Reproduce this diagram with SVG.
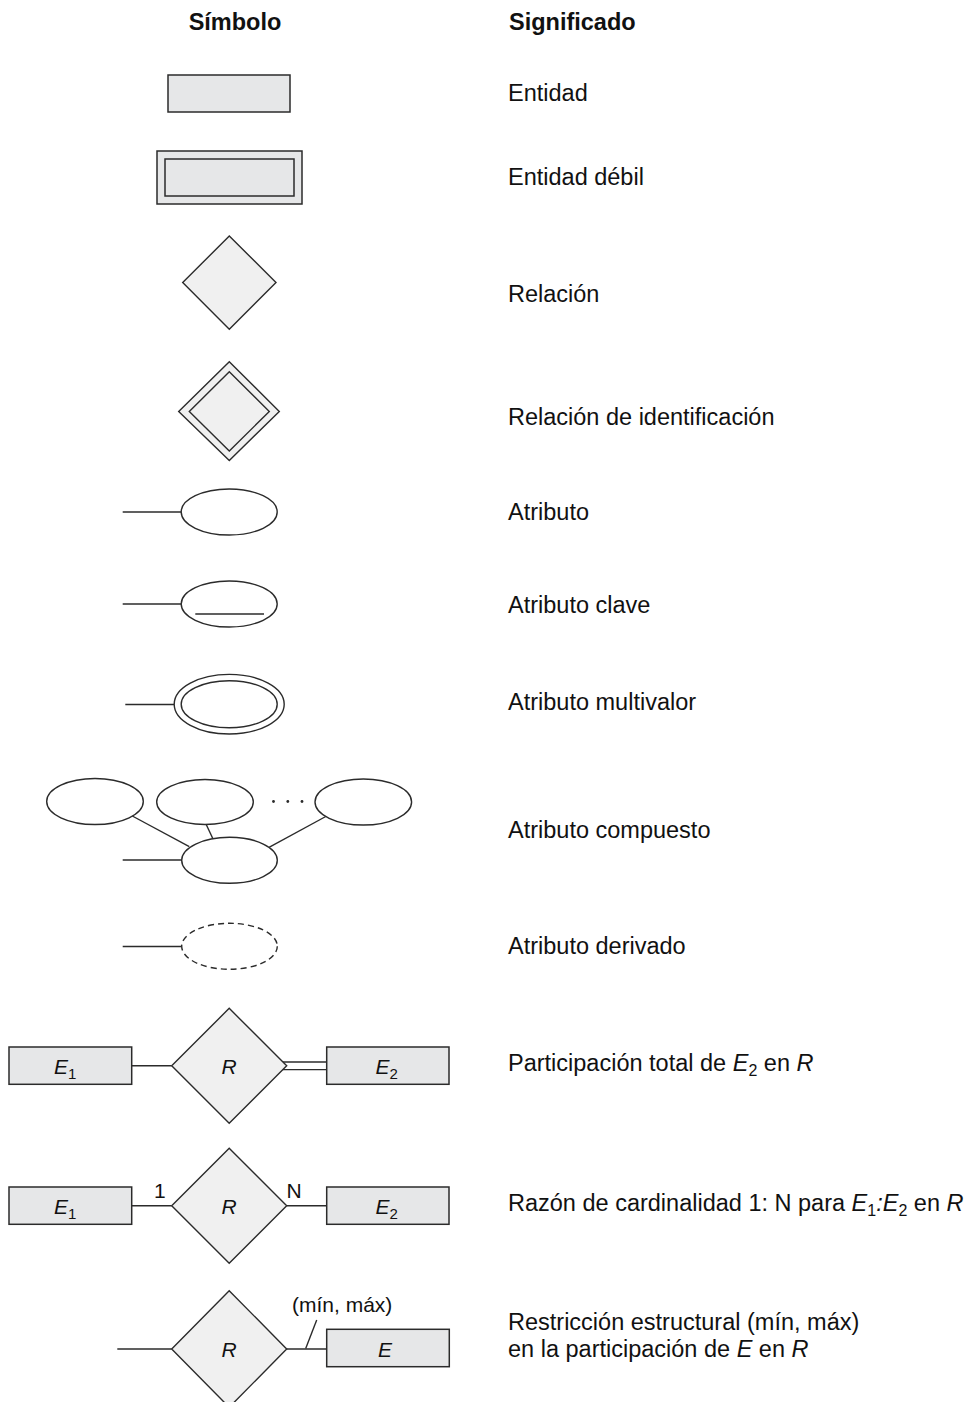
<svg xmlns="http://www.w3.org/2000/svg" width="980" height="1402" viewBox="0 0 980 1402">
<style>
  .ent{fill:#e6e7e8;stroke:#2b2b2b;stroke-width:1.5}
  .rel{fill:#f0f0f0;stroke:#2b2b2b;stroke-width:1.4}
  .att{fill:#ffffff;stroke:#2b2b2b;stroke-width:1.4}
  .ln{fill:none;stroke:#2b2b2b;stroke-width:1.4}
  .dash{stroke-dasharray:6 4}
  .hd{font-family:"Liberation Sans",Arial,Helvetica,sans-serif;font-weight:bold;font-size:23.5px;fill:#111}
  .tx{font-family:"Liberation Sans",Arial,Helvetica,sans-serif;font-size:23.5px;fill:#111}
  .lb{font-family:"Liberation Sans",Arial,Helvetica,sans-serif;font-size:21px;fill:#111}
  .it{font-style:italic}
</style>
<rect width="980" height="1402" fill="#ffffff"/>

<!-- headers -->
<g id="headers">
  <text class="hd" x="235" y="29.5" text-anchor="middle">Símbolo</text>
  <text class="hd" x="509" y="29.5">Significado</text>
</g>

<!-- connectors -->
<g id="connectors">
  <line class="ln" x1="122.7" y1="512" x2="181" y2="512"/>
  <line class="ln" x1="122.7" y1="604" x2="181" y2="604"/>
  <line class="ln" x1="125.3" y1="704.5" x2="174" y2="704.5"/>
  <line class="ln" x1="122.7" y1="860" x2="181.7" y2="860"/>
  <line class="ln" x1="132.3" y1="816" x2="189.3" y2="846.7"/>
  <line class="ln" x1="206" y1="824" x2="213" y2="839"/>
  <line class="ln" x1="326.7" y1="816" x2="269" y2="847.3"/>
  <line class="ln" x1="122.7" y1="946.5" x2="181.7" y2="946.5"/>
  <!-- row 1 -->
  <line class="ln" x1="131.7" y1="1065.7" x2="171.7" y2="1065.7"/>
  <line class="ln" x1="282.7" y1="1062" x2="326.7" y2="1062"/>
  <line class="ln" x1="282.7" y1="1069.6" x2="326.7" y2="1069.6"/>
  <!-- row 2 -->
  <line class="ln" x1="131.7" y1="1205.7" x2="171.7" y2="1205.7"/>
  <line class="ln" x1="286.7" y1="1205.7" x2="326.7" y2="1205.7"/>
  <!-- row 3 -->
  <line class="ln" x1="117.3" y1="1349" x2="171.7" y2="1349"/>
  <line class="ln" x1="286.7" y1="1349" x2="326.7" y2="1349"/>
  <line class="ln" x1="316.7" y1="1320" x2="305.7" y2="1348.5"/>
</g>

<!-- symbols -->
<g id="entidad">
  <rect class="ent" x="168" y="75" width="122" height="37"/>
</g>
<g id="entidad-debil">
  <rect class="ent" x="157" y="151" width="145" height="53"/>
  <rect class="ent" x="165" y="159" width="129" height="37"/>
</g>
<g id="relacion">
  <polygon class="rel" points="229.3,236 276,282.5 229.3,329.3 182.7,282.5"/>
</g>
<g id="relacion-identificacion">
  <polygon class="rel" points="229.3,361.7 279.3,411.5 229.3,460.5 178.7,411.5"/>
  <polygon class="rel" points="229.3,371.7 269.3,411.5 229.3,451 189.3,411.5"/>
</g>
<g id="atributo">
  <ellipse class="att" cx="229.2" cy="512" rx="48" ry="23"/>
</g>
<g id="atributo-clave">
  <ellipse class="att" cx="229.2" cy="604" rx="48" ry="23"/>
  <line class="ln" x1="195.3" y1="614" x2="264" y2="614"/>
</g>
<g id="atributo-multivalor">
  <ellipse class="att" cx="229.2" cy="704.2" rx="55" ry="29.8"/>
  <ellipse class="att" cx="229.2" cy="704.2" rx="48" ry="23.5"/>
</g>
<g id="atributo-compuesto">
  <ellipse class="att" cx="95" cy="801.5" rx="48.3" ry="23"/>
  <ellipse class="att" cx="205" cy="802" rx="48.3" ry="22.5"/>
  <ellipse class="att" cx="363.3" cy="802" rx="48.3" ry="23"/>
  <ellipse class="att" cx="229.5" cy="860.3" rx="47.8" ry="23"/>
  <circle cx="273.5" cy="801.5" r="1.4" fill="#2b2b2b"/>
  <circle cx="287.8" cy="801.5" r="1.4" fill="#2b2b2b"/>
  <circle cx="302" cy="801.5" r="1.4" fill="#2b2b2b"/>
</g>
<g id="atributo-derivado">
  <ellipse class="att dash" cx="229.5" cy="946.3" rx="47.8" ry="23"/>
</g>

<g id="participacion-total">
  <rect class="ent" x="9" y="1047" width="122.7" height="37.3"/>
  <polygon class="rel" points="229.2,1008.3 286.7,1065.8 229.2,1123.3 171.7,1065.8"/>
  <rect class="ent" x="326.7" y="1047" width="122.3" height="37.3"/>
  <text class="lb" x="54" y="1073.7"><tspan class="it">E</tspan><tspan dy="4.8" font-size="15">1</tspan></text>
  <text class="lb it" x="229" y="1073.7" text-anchor="middle">R</text>
  <text class="lb" x="375.5" y="1073.7"><tspan class="it">E</tspan><tspan dy="4.8" font-size="15">2</tspan></text>
</g>

<g id="razon-cardinalidad">
  <rect class="ent" x="9" y="1187" width="122.7" height="37.3"/>
  <polygon class="rel" points="229.2,1148.2 286.7,1205.7 229.2,1263.2 171.7,1205.7"/>
  <rect class="ent" x="326.7" y="1187" width="122.3" height="37.3"/>
  <text class="lb" x="54" y="1213.7"><tspan class="it">E</tspan><tspan dy="4.8" font-size="15">1</tspan></text>
  <text class="lb it" x="229" y="1213.7" text-anchor="middle">R</text>
  <text class="lb" x="375.5" y="1213.7"><tspan class="it">E</tspan><tspan dy="4.8" font-size="15">2</tspan></text>
  <text class="lb" x="154" y="1198.3" font-size="23">1</text>
  <text class="lb" x="286.5" y="1198.3" font-size="23">N</text>
</g>

<g id="restriccion-estructural">
  <polygon class="rel" points="229.2,1290.7 286.7,1349 229.2,1407.3 171.7,1349"/>
  <rect class="ent" x="326.7" y="1329.3" width="122.6" height="37.4"/>
  <text class="lb it" x="229" y="1356.5" text-anchor="middle">R</text>
  <text class="lb it" x="385" y="1356.5" text-anchor="middle">E</text>
  <text class="lb" x="292" y="1311.7" font-size="23.5">(mín, máx)</text>
</g>

<!-- meanings -->
<g id="significados">
  <text class="tx" x="508" y="100.5">Entidad</text>
  <text class="tx" x="508" y="185">Entidad débil</text>
  <text class="tx" x="508" y="301.7">Relación</text>
  <text class="tx" x="508" y="425">Relación de identificación</text>
  <text class="tx" x="508" y="520">Atributo</text>
  <text class="tx" x="508" y="612.5">Atributo clave</text>
  <text class="tx" x="508" y="710">Atributo multivalor</text>
  <text class="tx" x="508" y="838">Atributo compuesto</text>
  <text class="tx" x="508" y="954">Atributo derivado</text>
  <text class="tx" x="508" y="1071.3">Participación total de <tspan class="it">E</tspan><tspan dy="5" font-size="16">2</tspan><tspan dy="-5"> en </tspan><tspan class="it">R</tspan></text>
  <text class="tx" x="508" y="1211">Razón de cardinalidad 1: N para <tspan class="it">E</tspan><tspan dy="5" font-size="16">1</tspan><tspan dy="-5" class="it">:E</tspan><tspan dy="5" font-size="16">2</tspan><tspan dy="-5"> en </tspan><tspan class="it">R</tspan></text>
  <text class="tx" x="508" y="1330">Restricción estructural (mín, máx)</text>
  <text class="tx" x="508" y="1357.3">en la participación de <tspan class="it">E</tspan> en <tspan class="it">R</tspan></text>
</g>
</svg>
